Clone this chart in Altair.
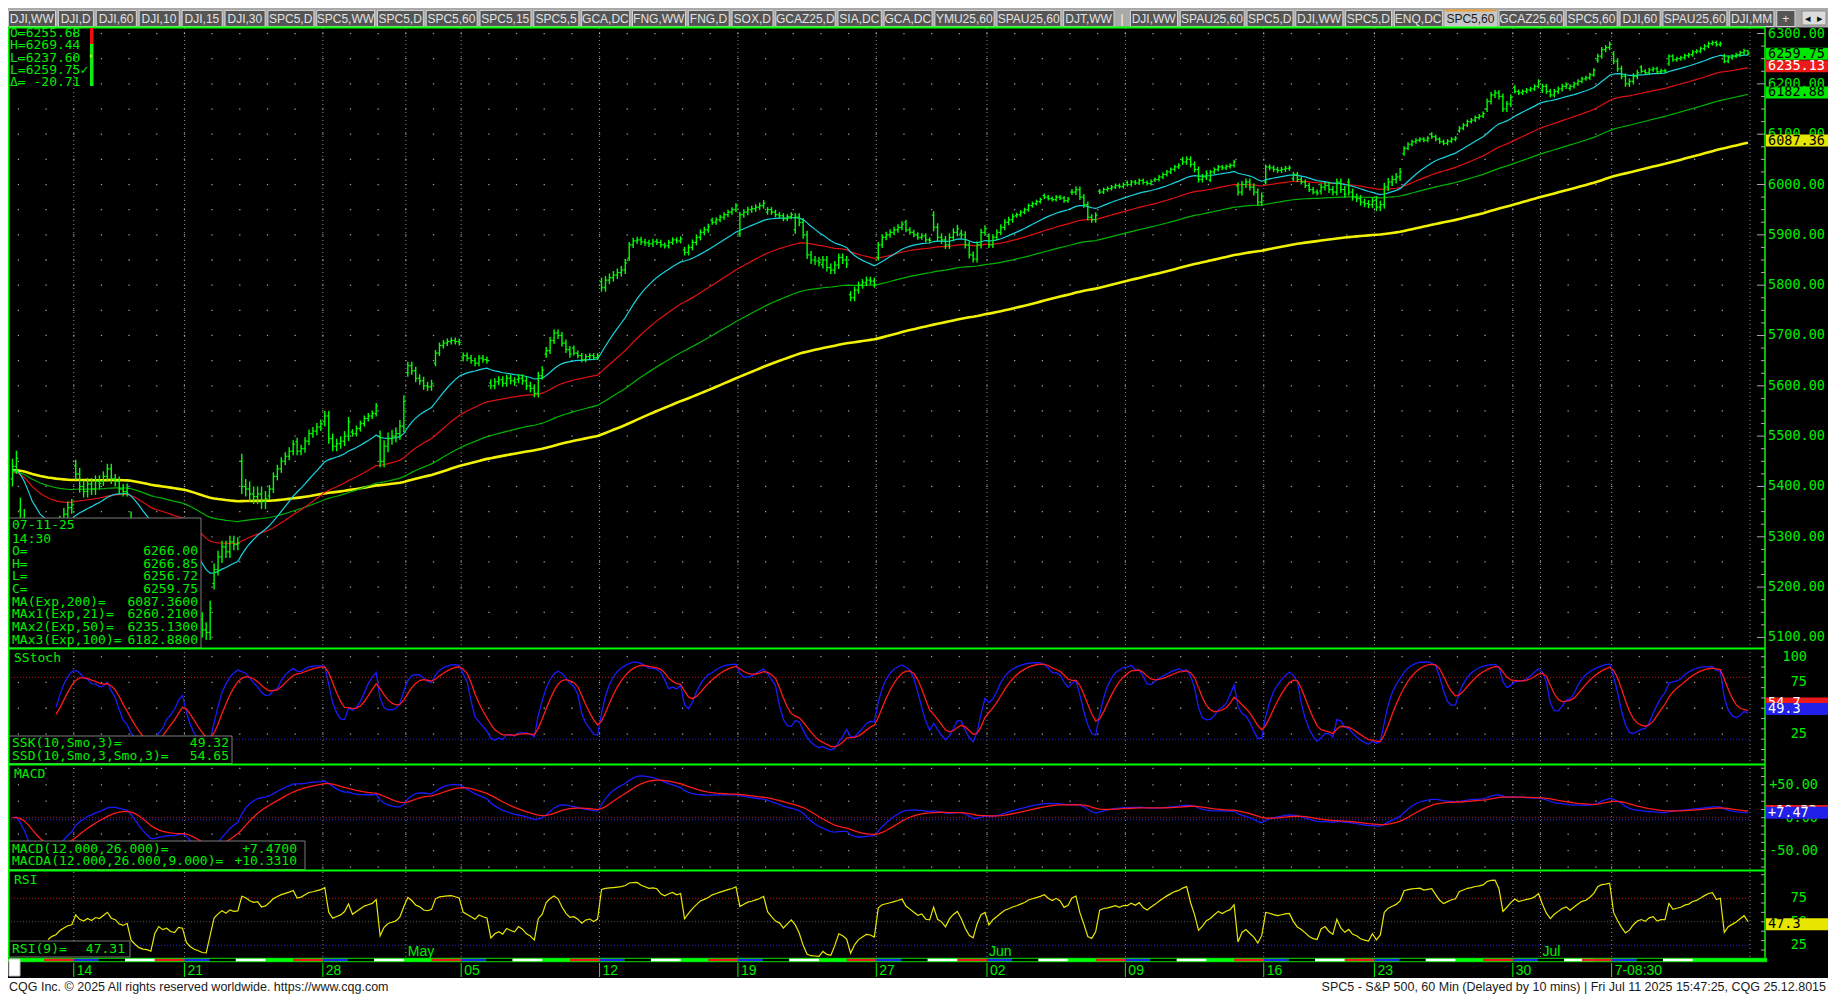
import itertools
import altair as alt
import numpy as np
import pandas as pd

# ---------------- values ----------------
DAY_LABELS = ["04-09", "04-10", "04-11", "04-14", "04-15", "04-16", "04-17",
              "04-21", "04-22", "04-23", "04-24", "04-25", "04-28", "04-29", "04-30",
              "05-01", "05-02", "05-05", "05-06", "05-07", "05-08", "05-09",
              "05-12", "05-13", "05-14", "05-15", "05-16", "05-19", "05-20", "05-21",
              "05-22", "05-23", "05-27", "05-28", "05-29", "05-30",
              "06-02", "06-03", "06-04", "06-05", "06-06", "06-09", "06-10", "06-11",
              "06-12", "06-13", "06-16", "06-17", "06-18", "06-20", "06-23", "06-24",
              "06-25", "06-26", "06-27", "06-30", "07-01", "07-02", "07-03",
              "07-07", "07-08", "07-09", "07-10", "07-11"]

DAY_OPENS = [5415, 5353, 5255, 5441, 5411, 5335, 5290,
             5232, 5207, 5450, 5381, 5489, 5529, 5508, 5499,
             5626, 5645, 5655, 5606, 5613, 5663, 5675,
             5807, 5854, 5887, 5870, 5929, 5902, 5945, 5910,
             5841, 5781, 5855, 5925, 5939, 5903,
             5897, 5938, 5978, 5985, 5987, 6004, 6009, 6049,
             6009, 5997, 6005, 6012, 5987, 6005, 5969, 6061,
             6100, 6107, 6150, 6193, 6187, 6191, 6247,
             6259, 6233, 6240, 6264, 6255.68]

DAY_CLOSES = [
    [5440, 5456],
    [5330, 5270, 5200, 5170, 5230, 5215, 5268],
    [5275, 5295, 5305, 5330, 5345, 5358, 5363],
    [5425, 5400, 5390, 5405, 5395, 5410, 5406],
    [5420, 5435, 5415, 5410, 5395, 5390, 5396],
    [5320, 5290, 5260, 5245, 5240, 5225, 5275],
    [5300, 5285, 5290, 5275, 5270, 5285, 5282],
    [5210, 5175, 5150, 5135, 5115, 5110, 5158],
    [5235, 5260, 5280, 5270, 5290, 5285, 5287],
    [5400, 5395, 5385, 5380, 5385, 5370, 5376],
    [5395, 5420, 5435, 5450, 5460, 5470, 5484],
    [5470, 5475, 5490, 5505, 5510, 5518, 5525],
    [5540, 5495, 5480, 5485, 5490, 5500, 5528],
    [5505, 5515, 5525, 5535, 5540, 5545, 5560],
    [5450, 5480, 5495, 5500, 5505, 5520, 5569],
    [5640, 5630, 5615, 5610, 5600, 5598, 5604],
    [5665, 5680, 5685, 5688, 5690, 5688, 5686],
    [5660, 5655, 5650, 5645, 5655, 5652, 5650],
    [5600, 5608, 5612, 5605, 5615, 5610, 5607],
    [5615, 5610, 5600, 5595, 5585, 5620, 5631],
    [5670, 5690, 5705, 5700, 5685, 5672, 5663],
    [5665, 5660, 5652, 5658, 5660, 5656, 5660],
    [5795, 5810, 5815, 5820, 5825, 5830, 5844],
    [5880, 5888, 5890, 5886, 5884, 5882, 5886],
    [5885, 5880, 5878, 5885, 5890, 5888, 5892],
    [5865, 5875, 5885, 5895, 5905, 5910, 5916],
    [5925, 5930, 5935, 5940, 5945, 5950, 5958],
    [5940, 5945, 5950, 5952, 5955, 5958, 5963],
    [5950, 5945, 5940, 5938, 5932, 5936, 5940],
    [5935, 5925, 5900, 5860, 5850, 5848, 5845],
    [5850, 5835, 5830, 5840, 5855, 5850, 5842],
    [5775, 5790, 5800, 5805, 5810, 5808, 5802],
    [5880, 5895, 5900, 5905, 5910, 5915, 5921],
    [5910, 5905, 5900, 5895, 5898, 5890, 5889],
    [5915, 5895, 5890, 5880, 5895, 5905, 5912],
    [5900, 5880, 5860, 5852, 5880, 5905, 5912],
    [5880, 5895, 5905, 5915, 5925, 5930, 5936],
    [5940, 5945, 5950, 5958, 5962, 5966, 5970],
    [5975, 5972, 5970, 5975, 5973, 5968, 5971],
    [5985, 5990, 5975, 5960, 5935, 5930, 5939],
    [5985, 5990, 5992, 5995, 5998, 5996, 6000],
    [6000, 6005, 6003, 6008, 6004, 6002, 6006],
    [6010, 6015, 6020, 6025, 6030, 6035, 6038],
    [6045, 6050, 6040, 6030, 6010, 6015, 6022],
    [6025, 6030, 6035, 6033, 6036, 6038, 6045],
    [5985, 6000, 6005, 5995, 5985, 5965, 5977],
    [6035, 6033, 6030, 6028, 6030, 6032, 6033],
    [6020, 6010, 6005, 5998, 5990, 5985, 5983],
    [5995, 5998, 5990, 5985, 6005, 5990, 5981],
    [5985, 5975, 5972, 5965, 5962, 5960, 5967],
    [5955, 5960, 5995, 6005, 6010, 6015, 6025],
    [6072, 6080, 6085, 6088, 6090, 6088, 6092],
    [6095, 6090, 6085, 6082, 6086, 6090, 6092],
    [6112, 6118, 6125, 6128, 6133, 6136, 6141],
    [6165, 6178, 6182, 6175, 6150, 6160, 6173],
    [6185, 6182, 6185, 6188, 6190, 6195, 6205],
    [6195, 6185, 6178, 6185, 6190, 6195, 6198],
    [6195, 6200, 6205, 6210, 6212, 6218, 6227],
    [6255, 6268, 6272, 6279],
    [6245, 6230, 6215, 6200, 6205, 6215, 6222],
    [6225, 6222, 6228, 6230, 6224, 6226, 6226],
    [6255, 6248, 6250, 6252, 6256, 6258, 6263],
    [6265, 6270, 6275, 6280, 6282, 6278, 6280],
    [6245, 6252, 6255, 6258, 6262, 6266, 6259.75],
]

DAY_WICKS = [15, 25, 12, 12, 10, 15, 10, 15, 12, 15, 8, 8, 10, 6, 12,
             8, 6, 6, 7, 8, 7, 5, 8, 6, 5, 6, 5, 6, 5, 8, 8, 7,
             6, 5, 8, 7, 6, 4, 4, 6, 4, 4, 4, 6, 4, 7, 5, 5, 7, 7, 8, 4,
             4, 4, 6, 4, 5, 4, 5, 6, 4, 4, 4, 4]

LAST_BAR = {"o": 6266.00, "h": 6266.85, "l": 6256.72, "c": 6259.75}

EMA_PERIODS = [21, 50, 100, 200]
EMA_START = [5430, 5426, 5428, 5432]
EMA_COLORS = ["#18d4e0", "#e01010", "#00b400", "#f2f200"]
EMA_WIDTHS = [1.2, 1.2, 1.2, 2.6]

WEEK_DAYS = ["04-14", "04-21", "04-28", "05-05", "05-12", "05-19", "05-27",
             "06-02", "06-09", "06-16", "06-23", "06-30", "07-07"]
WEEK_TEXT = ["14", "21", "28", "05", "12", "19", "27", "02", "09", "16", "23", "30", "7-08:30"]
MONTH_DAYS = ["05-01", "06-02", "07-01"]
MONTH_TEXT = ["May", "Jun", "Jul"]

PRICE_LABELS = [5100, 5200, 5300, 5400, 5500, 5600, 5700, 5800, 5900, 6000, 6100, 6200, 6300]
STOCH_LABELS = [25, 50, 75, 100]
MACD_LABELS = [-50, 0, 50]
RSI_LABELS = [25, 50, 75]

# last values shown in the coloured boxes of the right axis
PRICE_BOXES = [(6087.36, "6087.36"), (6182.88, "6182.88"), (6235.13, "6235.13"), (6259.75, "6259.75")]
STOCH_BOXES = [(54.65, "54.7"), (49.32, "49.3")]
MACD_BOXES = [(10.331, "+10.33"), (7.47, "+7.47")]
RSI_BOXES = [(47.31, "47.3")]

HEAD_LINES = ["O=6255.68", "H=6269.44", "L=6237.60", "L=6259.75\u2713", "\u0394= -20.71"]
INFO_LEFT = ["07-11-25", "14:30", "O=", "H=", "L=", "C=", "MA(Exp,200)=",
             "MAx1(Exp,21)=", "MAx2(Exp,50)=", "MAx3(Exp,100)="]
INFO_RIGHT = ["", "", "6266.00", "6266.85", "6256.72", "6259.75", "6087.3600",
              "6260.2100", "6235.1300", "6182.8800"]
STOCH_INFO = [("SSK(10,Smo,3)=", "49.32"), ("SSD(10,Smo,3,Smo,3)=", "54.65")]
MACD_INFO = [("MACD(12.000,26.000)=", "+7.4700"), ("MACDA(12.000,26.000,9.000)=", "+10.3310")]
RSI_INFO = [("RSI(9)=", "47.31")]

TABS = ["DJI,WW", "DJI,D", "DJI,60", "DJI,10", "DJI,15", "DJI,30", "SPC5,D", "SPC5,WW",
        "SPC5,D", "SPC5,60", "SPC5,15", "SPC5,5", "GCA,DC", "FNG,WW", "FNG,D", "SOX,D",
        "GCAZ25,D", "SIA,DC", "GCA,DC", "YMU25,60", "SPAU25,60", "DJT,WW", "|", "DJI,WW",
        "SPAU25,60", "SPC5,D", "DJI,WW", "SPC5,D", "ENQ,DC", "SPC5,60", "GCAZ25,60",
        "SPC5,60", "DJI,60", "SPAU25,60", "DJI,MM", "+"]
ACTIVE_TAB = 29

FOOT_LEFT = "CQG Inc. \u00a9 2025 All rights reserved worldwide. https://www.cqg.com"
FOOT_RIGHT = "SPC5 - S&P 500, 60 Min (Delayed by 10 mins) | Fri Jul 11 2025 15:47:25, CQG 25.12.8015"

# ---------------- bars and indicators ----------------
rows, day_first = [], {}
prev, i = None, 0
for lab, op, cl, wk in zip(DAY_LABELS, DAY_OPENS, DAY_CLOSES, DAY_WICKS):
    day_first[lab] = i
    for k, c in enumerate(cl):
        o = op if k == 0 else prev
        rows.append({"i": i, "o": o, "c": c, "h": max(o, c) + wk, "l": min(o, c) - wk})
        prev = c
        i += 1
rows[-1].update(LAST_BAR)
bars = pd.DataFrame(rows)
N = len(bars)
bars["il"] = bars["i"] - 0.45
bars["ir"] = bars["i"] + 0.45


def ema(vals, n, start):
    a = 2.0 / (n + 1)
    out, e = [], start
    for v in vals:
        e += a * (v - e)
        out.append(e)
    return np.array(out)


def smoothed(series, n):
    out = np.full(len(series), np.nan)
    e = None
    for k, v in enumerate(series):
        if np.isnan(v):
            continue
        e = v if e is None else e + (v - e) / n
        out[k] = e
    return out


cl = bars["c"].to_numpy(float)
for n, s in zip(EMA_PERIODS, EMA_START):
    bars[f"ema{n}"] = ema(cl, n, s)
macd = ema(cl, 12, cl[0]) - ema(cl, 26, cl[0])
bars["macd"] = macd
bars["sig"] = ema(macd, 9, 0.0)

d = np.diff(cl, prepend=cl[0])
gain, loss = np.clip(d, 0, None), np.clip(-d, 0, None)
rsi = np.full(N, np.nan)
ag, al = gain[1:10].mean(), loss[1:10].mean()
rsi[9] = 100 - 100 / (1 + ag / max(al, 1e-9))
for k in range(10, N):
    ag = (ag * 8 + gain[k]) / 9
    al = (al * 8 + loss[k]) / 9
    rsi[k] = 100 - 100 / (1 + ag / max(al, 1e-9))
bars["rsi"] = rsi
hh = bars["h"].rolling(10).max()
ll = bars["l"].rolling(10).min()
rawk = (100 * (bars["c"] - ll) / (hh - ll)).to_numpy(float)
bars["ssk"] = smoothed(rawk, 3)
bars["ssd"] = smoothed(bars["ssk"].to_numpy(float), 3)
bars.loc[:10, ["ssk", "ssd"]] = np.nan

# ---------------- layout ----------------
W, H = 1820, 986
X0, X1 = 2.5, 1742.0
AX = 1757
TAB_B = 19
MAIN_T, MAIN_B = 20, 640
STO_T, STO_B = 641, 756
MAC_T, MAC_B = 757, 862
RSI_T, RSI_B = 863, 950
FOOT_T = 970

GREEN = "#00ff00"
TXT = "#00ee00"
MONO = "DejaVu Sans Mono, Liberation Mono, monospace"
NARROW = "Liberation Sans Narrow, Liberation Sans, Arial, sans-serif"

XS = alt.Scale(domain=[-0.5, N - 0.5], range=[X0, X1], nice=False, zero=False)
PS = alt.Scale(domain=[5079, 6311], range=[MAIN_B, MAIN_T], nice=False, zero=False, clamp=True)
SS = alt.Scale(domain=[-4.1, 107.5], range=[STO_B, STO_T], nice=False, zero=False, clamp=True)
MS = alt.Scale(domain=[-79.4, 80], range=[MAC_B, MAC_T], nice=False, zero=False, clamp=True)
RS = alt.Scale(domain=[11.5, 104], range=[RSI_B, RSI_T], nice=False, zero=False, clamp=True)


def X(f):
    return alt.X(f, type="quantitative", scale=XS, axis=None)


def Y(f, s):
    return alt.Y(f, type="quantitative", scale=s, axis=None)


def PX(f):
    return alt.X(f, type="quantitative", scale=None, axis=None)


def PY(f):
    return alt.Y(f, type="quantitative", scale=None, axis=None)


def hline(x0, x1, y, color, width=1.0, dash=None):
    kw = dict(color=color, strokeWidth=width)
    if dash:
        kw["strokeDash"] = dash
    return alt.Chart(pd.DataFrame({"a": [0]})).mark_rule(**kw).encode(
        x=alt.value(x0), x2=alt.value(x1), y=alt.value(y))


def vline(x, y0, y1, color, width=1.0, dash=None):
    kw = dict(color=color, strokeWidth=width)
    if dash:
        kw["strokeDash"] = dash
    return alt.Chart(pd.DataFrame({"a": [0]})).mark_rule(**kw).encode(
        x=alt.value(x), y=alt.value(y0), y2=alt.value(y1))


def prect(df, sw=1.0):
    return alt.Chart(df).mark_rect(strokeWidth=sw).encode(
        x=PX("x"), x2="x2", y=PY("y"), y2="y2",
        fill=alt.Fill("f:N", scale=None), stroke=alt.Stroke("s:N", scale=None))


def ptext(df, **kw):
    return alt.Chart(df).mark_text(**kw).encode(x=PX("x"), y=PY("y"), text="t:N")


layers = []

# tab bar
layers.append(prect(pd.DataFrame({"x": [0], "x2": [W], "y": [0], "y2": [TAB_B],
                                  "f": ["#a9a9a9"], "s": ["#a9a9a9"]})))
CW = {"D": 7.2, "J": 4.5, "I": 3.0, ",": 3.0, "W": 10.0, "S": 6.5, "P": 6.5, "C": 7.0,
      "G": 7.5, "A": 7.0, "F": 6.0, "N": 7.5, "O": 7.5, "X": 7.0, "Z": 6.5, "Y": 6.5,
      "M": 8.5, "U": 7.5, "T": 6.5, "Q": 7.5, "E": 6.5, "+": 7.0, "|": 3.0}
widths = [sum(CW.get(ch, 6.3) for ch in t) + (13 if t != "|" else 9) for t in TABS]
gap = 2.5
total = sum(widths) + gap * (len(TABS) - 1)
sc = 1787.0 / total
tab_rows, tab_txt = [], []
xcur = 0.0
for k, (t, w) in enumerate(zip(TABS, widths)):
    w2 = w * sc
    if t != "|":
        act = k == ACTIVE_TAB
        tab_rows.append({"x": xcur + 0.5, "x2": xcur + w2, "y": 2.5, "y2": 18.5,
                         "f": "#c6c6c6" if act else "#555555", "s": "#d4d4d4"})
    tab_txt.append({"x": xcur + w2 / 2, "y": 11, "t": t,
                    "col": "#1c1c1c" if k == ACTIVE_TAB else ("#e2e2e2" if t != "|" else "#f4f4f4")})
    if k == ACTIVE_TAB:
        act_x = (xcur + 0.5, xcur + w2)
    xcur += w2 + gap * sc
layers.append(prect(pd.DataFrame(tab_rows)))
layers.append(hline(act_x[0], act_x[1], 2.5, "#f0a030", 2))
layers.append(alt.Chart(pd.DataFrame(tab_txt)).mark_text(
    font="Liberation Sans, Arial, sans-serif", fontSize=12, baseline="middle", align="center").encode(
    x=PX("x"), y=PY("y"), text="t:N", color=alt.Color("col:N", scale=None)))
layers.append(prect(pd.DataFrame({"x": [1794], "x2": [1818], "y": [3], "y2": [17],
                                  "f": ["#dcdcdc"], "s": ["#8a8a8a"]})))
layers.append(ptext(pd.DataFrame({"x": [1800, 1812], "y": [10.5, 10.5], "t": ["\u25c2", "\u25b8"]}),
                    fontSize=11, color="#111111", align="center", baseline="middle"))
layers.append(hline(0, AX, 19.5, GREEN, 2))

# dotted grid
bounds = [day_first[dd] - 0.5 for dd in DAY_LABELS[1:]]
gm = pd.DataFrame(list(itertools.product(bounds, list(range(5100, 6301, 50)))), columns=["b", "v"])
layers.append(alt.Chart(gm).mark_square(size=1.6, color="#a0a0a0", opacity=1).encode(
    x=X("b"), y=Y("v", PS)))
gs = pd.DataFrame(list(itertools.product(bounds, [25, 50, 75, 100])), columns=["b", "v"])
layers.append(alt.Chart(gs).mark_square(size=1.6, color="#a0a0a0", opacity=1).encode(
    x=X("b"), y=Y("v", SS)))
gmc = pd.DataFrame(list(itertools.product(bounds, [-75, -50, -25, 25, 50, 75])), columns=["b", "v"])
layers.append(alt.Chart(gmc).mark_square(size=1.6, color="#a0a0a0", opacity=1).encode(
    x=X("b"), y=Y("v", MS)))
vl = sorted(set([day_first[dd] - 0.5 for dd in WEEK_DAYS + MONTH_DAYS] + [N - 0.5]))
layers.append(alt.Chart(pd.DataFrame({"b": vl})).mark_rule(
    color="#8c8c8c", strokeWidth=1, strokeDash=[1, 3]).encode(
    x=X("b"), y=alt.value(MAIN_T), y2=alt.value(RSI_B)))


# reference lines of the indicator panels
def ref_line(v, s, color, dash=(1, 2), yoff=0):
    return alt.Chart(pd.DataFrame({"v": [v]})).mark_rule(
        color=color, strokeWidth=1, strokeDash=list(dash), yOffset=yoff).encode(
        x=alt.value(0), x2=alt.value(X1 + 1), y=Y("v", s))


layers += [ref_line(80, SS, "#c01010"), ref_line(20, SS, "#2525d0"),
           ref_line(0, MS, "#b01040"), ref_line(0, MS, "#2525d0", yoff=2),
           ref_line(75, RS, "#c01010"), ref_line(50, RS, "#555555"), ref_line(25, RS, "#2525d0")]

# moving averages
for n, col, wd in zip(EMA_PERIODS[::-1], EMA_COLORS[::-1], EMA_WIDTHS[::-1]):
    layers.append(alt.Chart(bars).mark_line(color=col, strokeWidth=wd).encode(
        x=X("i"), y=Y(f"ema{n}", PS)))

# price bars
layers.append(alt.Chart(bars).mark_rule(color=GREEN, strokeWidth=1.4).encode(
    x=X("i"), y=Y("l", PS), y2="h"))
layers.append(alt.Chart(bars).mark_rule(color=GREEN, strokeWidth=1.2).encode(
    x=X("il"), x2="i", y=Y("o", PS)))
layers.append(alt.Chart(bars).mark_rule(color=GREEN, strokeWidth=1.2).encode(
    x=X("i"), x2="ir", y=Y("c", PS)))

# indicator lines
layers.append(alt.Chart(bars).mark_line(color="#1a1aff", strokeWidth=1.3).encode(x=X("i"), y=Y("ssk", SS)))
layers.append(alt.Chart(bars).mark_line(color="#ff1a1a", strokeWidth=1.3).encode(x=X("i"), y=Y("ssd", SS)))
layers.append(alt.Chart(bars).mark_line(color="#1a1aff", strokeWidth=1.3).encode(x=X("i"), y=Y("macd", MS)))
layers.append(alt.Chart(bars).mark_line(color="#ff1a1a", strokeWidth=1.3).encode(x=X("i"), y=Y("sig", MS)))
layers.append(alt.Chart(bars).mark_line(color="#e8e800", strokeWidth=1.2).encode(x=X("i"), y=Y("rsi", RS)))

# info boxes
boxes = pd.DataFrame({"x": [0.5, 0.5, 0.5, 0.5], "x2": [193, 224, 297, 122],
                      "y": [510, 728, 833, 933], "y2": [640, 755.5, 861.5, 949],
                      "f": ["#000000"] * 4, "s": ["#7d7d7d"] * 4})
layers.append(prect(boxes))
info_y = [517, 530.5, 543, 555.5, 568, 580.5, 593.5, 606, 619, 631.5]
left_rows = [{"x": 4, "y": yy, "t": t} for yy, t in zip(info_y, INFO_LEFT)]
right_rows = [{"x": 190, "y": yy, "t": t} for yy, t in zip(info_y, INFO_RIGHT) if t]
for (lt, rt), yy in zip(STOCH_INFO, [735, 747.5]):
    left_rows.append({"x": 4, "y": yy, "t": lt})
    right_rows.append({"x": 221, "y": yy, "t": rt})
for (lt, rt), yy in zip(MACD_INFO, [840.5, 853]):
    left_rows.append({"x": 4, "y": yy, "t": lt})
    right_rows.append({"x": 289, "y": yy, "t": rt})
for (lt, rt), yy in zip(RSI_INFO, [941]):
    left_rows.append({"x": 4, "y": yy, "t": lt})
    right_rows.append({"x": 117, "y": yy, "t": rt})
for t, yy in zip(HEAD_LINES, [25, 37, 49.5, 61.5, 73.5]):
    left_rows.append({"x": 2, "y": yy, "t": t})
for t, yy in zip(["SStoch", "MACD", "RSI"], [650, 766, 871.5]):
    left_rows.append({"x": 6, "y": yy, "t": t})
layers.append(ptext(pd.DataFrame(left_rows), font=MONO, fontSize=13, color=TXT,
                    align="left", baseline="middle"))
layers.append(ptext(pd.DataFrame(right_rows), font=MONO, fontSize=13, color=TXT,
                    align="right", baseline="middle"))
layers.append(prect(pd.DataFrame({"x": [82, 82], "x2": [85.5, 85.5], "y": [20, 36], "y2": [36, 78],
                                  "f": ["#ee1010", "#10ee10"], "s": ["#ee1010", "#10ee10"]}), sw=0))
layers.append(alt.Chart(pd.DataFrame({"a": [0]})).mark_point(
    shape="triangle-right", size=18, filled=True, color="#f0e000").encode(
    x=alt.value(83.5), y=alt.value(48)))

# panel borders
for yy in [640.5, 756.5, 862.5]:
    layers.append(hline(0, AX, yy, GREEN, 2))
layers.append(vline(0.5, 19.5, 954, GREEN, 2))
layers.append(vline(AX, 19.5, 954, GREEN, 1.5))

# axis ticks
t_main = pd.DataFrame({"v": list(range(5100, 6301, 25))})
t_main["len"] = np.where(t_main["v"] % 100 == 0, 8, 4)
for ln in (4, 8):
    sub = t_main[t_main["len"] == ln]
    layers.append(alt.Chart(sub).mark_rule(color="#a8a8a8", strokeWidth=1).encode(
        x=alt.value(AX - ln), x2=alt.value(AX), y=Y("v", PS)))
for vals, s in [(list(range(0, 101, 10)), SS),
                ([-75, -62.5, -50, -37.5, -25, -12.5, 0, 12.5, 25, 37.5, 50, 62.5, 75], MS),
                (list(range(20, 101, 10)), RS)]:
    layers.append(alt.Chart(pd.DataFrame({"v": vals})).mark_rule(color="#a8a8a8", strokeWidth=1).encode(
        x=alt.value(AX - 4), x2=alt.value(AX), y=Y("v", s)))

# axis labels
layers.append(alt.Chart(pd.DataFrame({"v": PRICE_LABELS, "t": [f"{v:.2f}" for v in PRICE_LABELS]})).mark_text(
    font=MONO, fontSize=13.5, color=TXT, align="left", baseline="middle").encode(
    x=alt.value(AX + 3), y=Y("v", PS), text="t:N"))
for vals, s in [(STOCH_LABELS, SS), (RSI_LABELS, RS)]:
    layers.append(alt.Chart(pd.DataFrame({"v": vals, "t": [str(v) for v in vals]})).mark_text(
        font=MONO, fontSize=13.5, color=TXT, align="right", baseline="middle").encode(
        x=alt.value(1799), y=Y("v", s), text="t:N"))
layers.append(alt.Chart(pd.DataFrame({"v": MACD_LABELS,
                                      "t": [("+" if v > 0 else "") + f"{v:.2f}" for v in MACD_LABELS]})).mark_text(
    font=MONO, fontSize=13.5, color=TXT, align="right", baseline="middle").encode(
    x=alt.value(1810), y=Y("v", MS), text="t:N"))


# value boxes on the axis, each box drawn with its own text before the next one
def vbox(items, bgs, fgs, s):
    out = []
    for (v, t), bg, fg in zip(items, bgs, fgs):
        df = pd.DataFrame({"v": [v], "t": [t]})
        out.append(alt.Chart(df).mark_rule(strokeWidth=12, color=bg).encode(
            x=alt.value(AX + 1), x2=alt.value(W), y=Y("v", s)))
        out.append(alt.Chart(df).mark_text(font=MONO, fontSize=13.5, align="left",
                                           baseline="middle", color=fg).encode(
            x=alt.value(AX + 3), y=Y("v", s), text="t:N"))
    return out


layers += vbox(PRICE_BOXES, ["#e6e600", "#00e800", "#ee1a1a", "#00e800"],
               ["#000000", "#000000", "#ffffff", "#000000"], PS)
layers += vbox(STOCH_BOXES, ["#ee1a1a", "#2020e8"], ["#ffffff", "#ffffff"], SS)
layers += vbox(MACD_BOXES, ["#ee1a1a", "#2020e8"], ["#ffffff", "#ffffff"], MS)
layers += vbox(RSI_BOXES, ["#e6e600"], ["#000000"], RS)

# colour strip and date row
layers.append(prect(pd.DataFrame({"x": [0], "x2": [AX + 2], "y": [950], "y2": [954],
                                  "f": [GREEN], "s": ["#00a000"]}), sw=0.6))
seg = []
for dd in WEEK_DAYS:
    ws = day_first[dd] - 0.5
    for a, b, col in [(-7.5, 0, "#ee1a1a"), (0, 6.3, "#2020e8"), (6.3, 13, "#000000"), (13, 20.5, "#ffffff")]:
        seg.append({"a": ws + a, "b": min(ws + b, N - 0.5), "col": col})
layers.append(alt.Chart(pd.DataFrame(seg)).mark_rect().encode(
    x=X("a"), x2="b", y=alt.value(950.8), y2=alt.value(953.2), color=alt.Color("col:N", scale=None)))
wk = pd.DataFrame({"b": [day_first[dd] - 0.5 for dd in WEEK_DAYS], "t": WEEK_TEXT})
layers.append(alt.Chart(wk).mark_rule(color=GREEN, strokeWidth=1).encode(
    x=X("b"), y=alt.value(955), y2=alt.value(969)))
layers.append(alt.Chart(wk).mark_text(font=NARROW, fontSize=14, color=TXT, align="left",
                                      baseline="middle", dx=3).encode(
    x=X("b"), y=alt.value(962.5), text="t:N"))
mo = pd.DataFrame({"b": [day_first[dd] - 0.5 for dd in MONTH_DAYS], "t": MONTH_TEXT})
layers.append(alt.Chart(mo).mark_text(font=NARROW, fontSize=14, color=TXT, align="left",
                                      baseline="middle", dx=2).encode(
    x=X("b"), y=alt.value(943.5), text="t:N"))
layers.append(prect(pd.DataFrame({"x": [1], "x2": [12], "y": [951], "y2": [968],
                                  "f": ["#ffffff"], "s": ["#c0c0c0"]})))

# footer
layers.append(prect(pd.DataFrame({"x": [0], "x2": [W], "y": [FOOT_T], "y2": [H],
                                  "f": ["#ffffff"], "s": ["#ffffff"]}), sw=0))
layers.append(ptext(pd.DataFrame({"x": [1], "y": [978.5], "t": [FOOT_LEFT]}),
                    font=NARROW, fontSize=12.5, color="#1a1a1a", align="left", baseline="middle"))
layers.append(ptext(pd.DataFrame({"x": [W - 2], "y": [978.5], "t": [FOOT_RIGHT]}),
                    font=NARROW, fontSize=12.5, color="#1a1a1a", align="right", baseline="middle"))

chart = alt.layer(*layers).properties(
    width=W, height=H, autosize=alt.AutoSizeParams(type="none"), padding=0, background="#000000"
).resolve_scale(x="independent", y="independent").configure_view(strokeWidth=0)

chart.save("out.html", embed_options={"renderer": "svg", "actions": False})
